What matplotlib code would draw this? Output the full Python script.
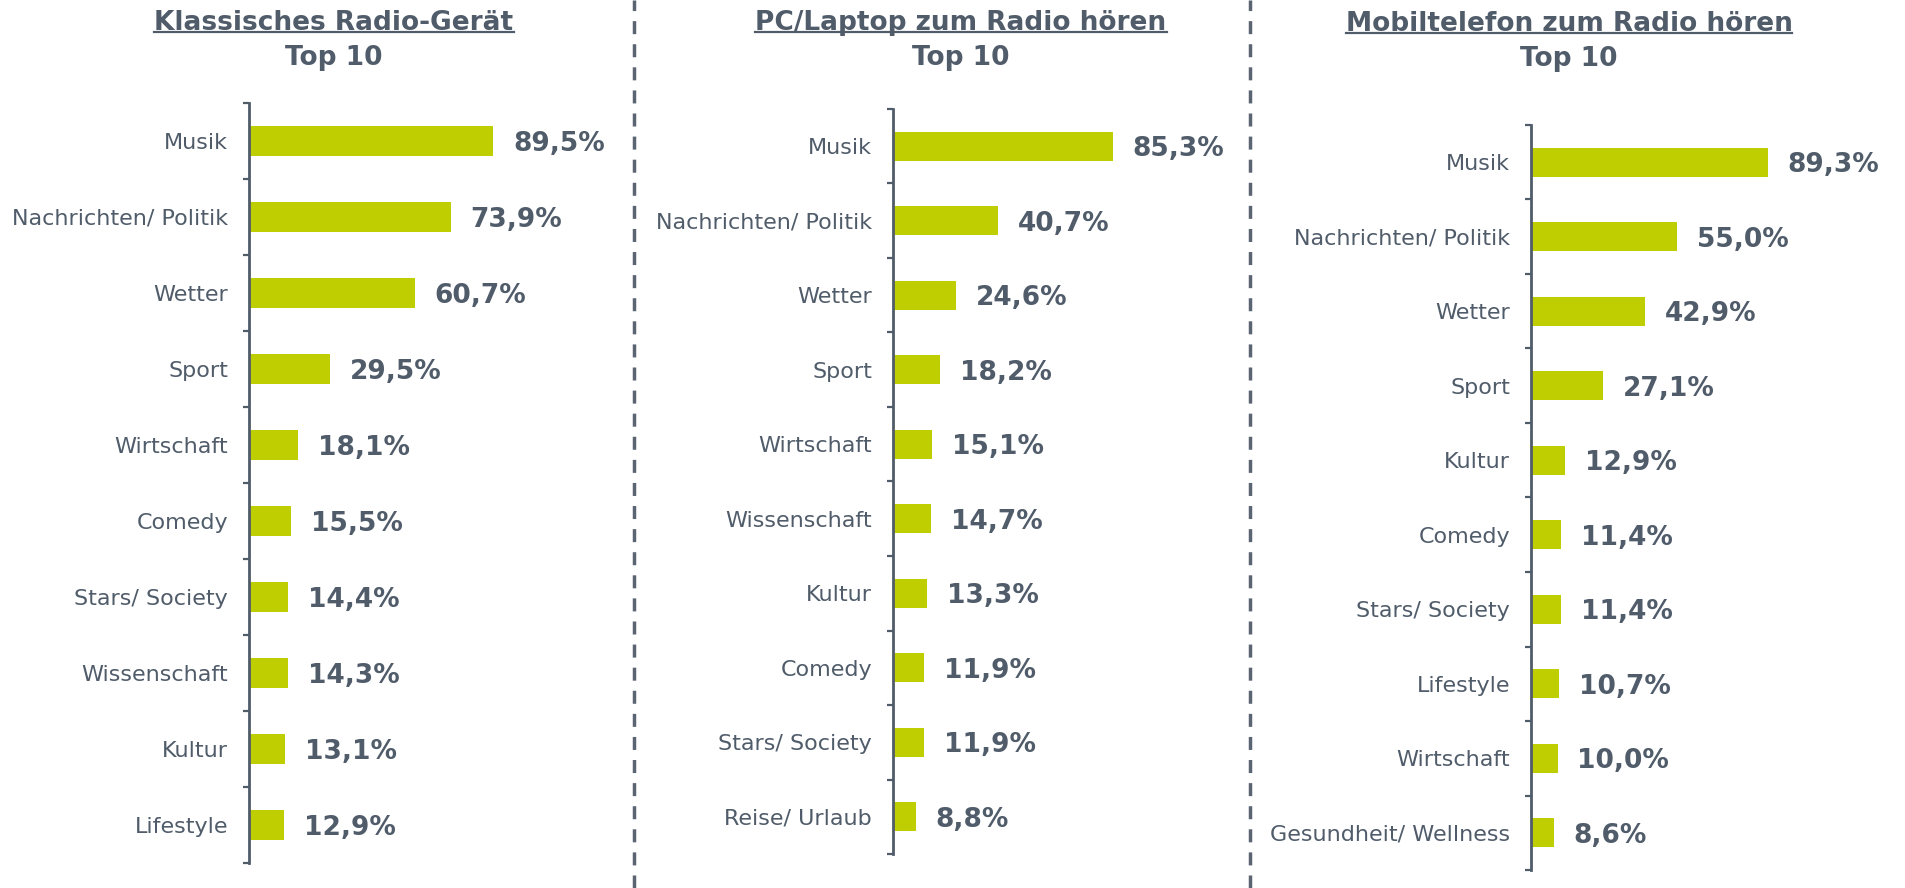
import numpy as np
import matplotlib
matplotlib.use('Agg')
import matplotlib.pyplot as plt
from matplotlib.lines import Line2D

W, H = 1905, 888
TXT = '#505C6A'
BAR = '#BFCE00'

# ---------------- data ----------------
title1 = 'Klassisches Radio-Gerät'
cats1 = ['Musik', 'Nachrichten/ Politik', 'Wetter', 'Sport', 'Wirtschaft',
         'Comedy', 'Stars/ Society', 'Wissenschaft', 'Kultur', 'Lifestyle']
vals1 = [89.5, 73.9, 60.7, 29.5, 18.1, 15.5, 14.4, 14.3, 13.1, 12.9]

title2 = 'PC/Laptop zum Radio hören'
cats2 = ['Musik', 'Nachrichten/ Politik', 'Wetter', 'Sport', 'Wirtschaft',
         'Wissenschaft', 'Kultur', 'Comedy', 'Stars/ Society', 'Reise/ Urlaub']
vals2 = [85.3, 40.7, 24.6, 18.2, 15.1, 14.7, 13.3, 11.9, 11.9, 8.8]

title3 = 'Mobiltelefon zum Radio hören'
cats3 = ['Musik', 'Nachrichten/ Politik', 'Wetter', 'Sport', 'Kultur',
         'Comedy', 'Stars/ Society', 'Lifestyle', 'Wirtschaft', 'Gesundheit/ Wellness']
vals3 = [89.3, 55.0, 42.9, 27.1, 12.9, 11.4, 11.4, 10.7, 10.0, 8.6]

subtitle = 'Top 10'

# ---------------- layout (pixels) ----------------
# left, top, bottom, width, px-per-percent, title center x, title baseline y
layouts = [
    (249, 103, 863, 340, 2.73, 334, 30),
    (893, 109, 854, 330, 2.575, 961, 30),
    (1531, 125, 870, 340, 2.65, 1569, 31),
]
datasets = [(title1, cats1, vals1), (title2, cats2, vals2), (title3, cats3, vals3)]

fig = plt.figure(figsize=(W / 100, H / 100), dpi=100)
fig.patch.set_facecolor('white')

titles = []
for (title, cats, vals), (left, top, bottom, width, scale, tcx, tby) in zip(datasets, layouts):
    ax = fig.add_axes([left / W, 1 - bottom / H, width / W, (bottom - top) / H])
    n = len(cats)
    y = np.arange(n)
    ax.barh(y, vals, height=0.39, color=BAR)
    ax.set_ylim(n - 0.5, -0.5)
    ax.set_xlim(0, width / scale)
    ax.set_yticks(y)
    ax.set_yticklabels(cats)
    ax.set_yticks(np.arange(n + 1) - 0.5, minor=True)
    ax.tick_params(axis='y', which='major', length=0, pad=15, labelsize=16,
                   labelcolor=TXT)
    ax.tick_params(axis='y', which='minor', length=4.5, width=1.6, color=TXT,
                   direction='out')
    ax.set_xticks([])
    for s in ['top', 'right', 'bottom']:
        ax.spines[s].set_visible(False)
    ax.spines['left'].set_color(TXT)
    ax.spines['left'].set_linewidth(2.0)
    ax.patch.set_visible(False)
    for yi, v in zip(y, vals):
        ax.annotate(f'{v:.1f}'.replace('.', ',') + '%', xy=(v, yi),
                    xytext=(20, -3), textcoords='offset pixels',
                    ha='left', va='center', fontsize=19, fontweight='bold',
                    color=TXT, annotation_clip=False)
    t = fig.text(tcx / W, 1 - tby / H, title, ha='center', va='baseline',
                 fontsize=19, fontweight='bold', color=TXT)
    fig.text(tcx / W, 1 - (tby + 35) / H, subtitle, ha='center', va='baseline',
             fontsize=19, fontweight='bold', color=TXT)
    titles.append((t, tby))

# separators
for xs in [633.5, 1250]:
    fig.add_artist(Line2D([xs / W, xs / W], [0, 1], transform=fig.transFigure,
                          linestyle=(0, (3.75, 2.9)), linewidth=2.5, color='#5A6472'))

# underline titles
fig.canvas.draw()
r = fig.canvas.get_renderer()
for t, tby in titles:
    bb = t.get_window_extent(r)
    yl = 1 - (tby + 2.5) / H
    fig.add_artist(Line2D([bb.x0 / W, bb.x1 / W], [yl, yl], transform=fig.transFigure,
                          linewidth=1.6, color=TXT))

fig.savefig('out.png', dpi=100, facecolor='white')
